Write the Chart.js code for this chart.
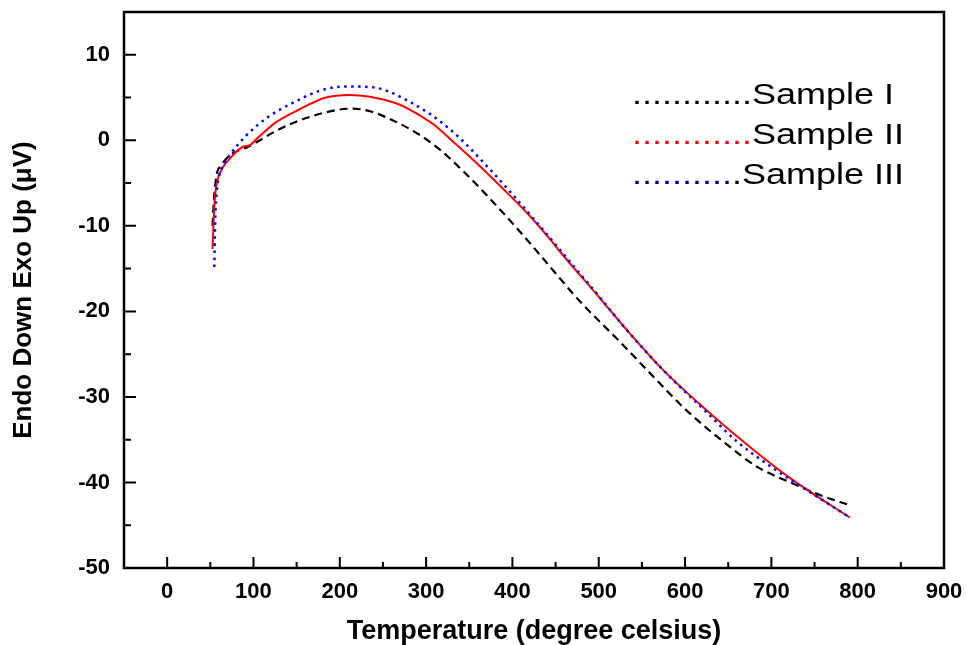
<!DOCTYPE html>
<html>
<head>
<meta charset="utf-8">
<script src="https://cdn.jsdelivr.net/npm/chart.js@4.4.1/dist/chart.umd.min.js"></script>
<style>
  html, body { margin: 0; background: #fff; }
  #wrap { width: 966px; height: 645px; }
</style>
</head>
<body>
<div id="wrap"><canvas id="dsc"></canvas></div>
<script>
// DSC curves, three samples
const sample1Temp   = [52.6, 54, 56, 58, 62, 72, 95, 130, 161, 200, 215, 235, 258, 293, 316, 343, 370, 401, 432, 478, 525, 564, 602, 649, 684, 722, 757, 792];
const sample1Signal = [-10, -7.2, -5, -3.7, -3.0, -1.8, -0.7, 1.3, 2.6, 3.6, 3.7, 3.4, 2.5, 0.6, -1.1, -3.6, -6.4, -9.8, -13.4, -18.8, -23.6, -27.7, -31.6, -35.6, -38.2, -40.0, -41.5, -42.7];

const sample2Temp   = [52.6, 54, 55.5, 57.5, 59.6, 65, 72, 89, 95, 105, 126, 153, 184, 211, 235, 266, 281, 308, 335, 362, 389.5, 417, 444, 455, 500, 531, 575, 622, 672, 711, 742, 791];
const sample2Signal = [-12.7, -9, -6.5, -5, -4.2, -3.1, -2.2, -0.7, -0.6, 0.3, 2.1, 3.6, 5.0, 5.3, 5.1, 4.3, 3.6, 1.9, -0.5, -3.0, -5.7, -8.5, -11.6, -13.0, -18.3, -22.0, -26.9, -31.3, -35.6, -38.7, -40.9, -44.1];

const sample3Temp   = [54.6, 55.5, 57, 60, 66, 72, 91, 118, 146, 177, 207, 238, 281, 327.5, 374, 405, 440, 455, 500, 531, 575, 622, 660, 703, 738, 791];
const sample3Signal = [-14.8, -10, -6.5, -4.2, -2.8, -1.8, 0.5, 2.8, 4.4, 5.8, 6.3, 6.2, 4.5, 1.3, -3.4, -6.9, -11.0, -12.8, -18.2, -22.0, -26.9, -31.5, -35.2, -38.4, -40.7, -44.1];

const xTicks = [0, 100, 200, 300, 400, 500, 600, 700, 800, 900];
const yTicks = [-50, -40, -30, -20, -10, 0, 10];

const seriesLabels = ['Sample I', 'Sample II', 'Sample III'];

const FONT = '"Liberation Sans", Arial, sans-serif';
const pts = (xs, ys) => xs.map((x, i) => ({ x, y: ys[i] }));

// frame + inward major/minor ticks like the original plot
const frameTicks = {
  id: 'frameTicks',
  afterDatasetsDraw(chart) {
    const { ctx, chartArea: a, scales: { x, y } } = chart;
    ctx.save();
    ctx.strokeStyle = '#000';
    ctx.lineWidth = 2;
    ctx.beginPath();
    const xHalf = (xTicks[1] - xTicks[0]) / 2;
    xTicks.forEach(v => {
      const p = x.getPixelForValue(v);
      ctx.moveTo(p, a.bottom); ctx.lineTo(p, a.bottom - 11);
      const m = x.getPixelForValue(v - xHalf);
      if (m > a.left + 1) { ctx.moveTo(m, a.bottom); ctx.lineTo(m, a.bottom - 6); }
    });
    const yHalf = (yTicks[1] - yTicks[0]) / 2;
    yTicks.forEach(v => {
      const p = y.getPixelForValue(v);
      ctx.moveTo(a.left, p); ctx.lineTo(a.left + 12, p);
      const m = y.getPixelForValue(v + yHalf);
      if (m > a.top + 1) { ctx.moveTo(a.left, m); ctx.lineTo(a.left + 7, m); }
    });
    ctx.stroke();
    ctx.lineWidth = 2.5;
    ctx.strokeRect(a.left, a.top, a.right - a.left, a.bottom - a.top);
    ctx.restore();
  }
};

// legend drawn as "........Sample I" text rows, no box
const legendRows = [
  { dots: 12, color: '#000000', tail: 0 },
  { dots: 12, color: '#ff0000', tail: 0 },
  { dots: 10, color: '#000080', tail: 1 }
];
const dottedLegend = {
  id: 'dottedLegend',
  afterDraw(chart) {
    const { ctx } = chart;
    ctx.save();
    ctx.font = '30px ' + FONT;
    ctx.textBaseline = 'alphabetic';
    ctx.textAlign = 'left';
    legendRows.forEach((r, i) => {
      ctx.save();
      ctx.translate(632, 104 + i * 40);
      ctx.scale(1.2, 1);
      const dots = '.'.repeat(r.dots);
      ctx.fillStyle = r.color;
      ctx.fillText(dots, 0, 0);
      const w = ctx.measureText(dots).width;
      ctx.fillStyle = '#000';
      ctx.fillText('.'.repeat(r.tail) + seriesLabels[i], w, 0);
      ctx.restore();
    });
    ctx.restore();
  }
};

new Chart(document.getElementById('dsc'), {
  type: 'scatter',
  data: {
    datasets: [
      { label: seriesLabels[0], data: pts(sample1Temp, sample1Signal), showLine: true, borderColor: '#000000',
        borderWidth: 2.2, borderDash: [8, 5], pointRadius: 0, cubicInterpolationMode: 'monotone', order: 2 },
      { label: seriesLabels[1], data: pts(sample2Temp, sample2Signal), showLine: true, borderColor: '#ff0000',
        borderWidth: 2, pointRadius: 0, cubicInterpolationMode: 'monotone', order: 1 },
      { label: seriesLabels[2], data: pts(sample3Temp, sample3Signal), showLine: true, borderColor: '#0000ff',
        borderWidth: 2.5, borderDash: [2.5, 4.5], pointRadius: 0, cubicInterpolationMode: 'monotone', order: 0 }
    ]
  },
  options: {
    responsive: true,
    maintainAspectRatio: false,
    animation: false,
    layout: { padding: { top: 12, right: 22, left: 0, bottom: 0 } },
    plugins: { legend: { display: false }, tooltip: { enabled: false } },
    scales: {
      x: {
        type: 'linear', min: -50, max: 900,
        afterBuildTicks: s => { s.ticks = xTicks.map(v => ({ value: v })); },
        afterFit: s => { s.height = 77; s.paddingLeft = 0; s.paddingRight = 0; },
        grid: { display: false }, border: { display: false },
        ticks: { color: '#000', padding: 3, maxRotation: 0, autoSkip: false,
                 font: { family: FONT, size: 22, weight: 'bold' } },
        title: { display: true, text: 'Temperature (degree celsius)', color: '#000',
                 font: { family: FONT, size: 27, weight: 'bold' }, padding: { top: 0, bottom: -3 } }
      },
      y: {
        type: 'linear', min: -50, max: 15,
        afterBuildTicks: s => { s.ticks = yTicks.map(v => ({ value: v })); },
        afterFit: s => { s.width = 124; s.paddingTop = 0; s.paddingBottom = 0; },
        grid: { display: false }, border: { display: false },
        ticks: { color: '#000', padding: 6, font: { family: FONT, size: 22, weight: 'bold' } },
        title: { display: true, text: 'Endo Down Exo Up (\u03BCV)', color: '#000',
                 font: { family: FONT, size: 26, weight: 'bold' }, padding: { top: 8, bottom: 0 } }
      }
    }
  },
  plugins: [frameTicks, dottedLegend]
});
</script>
</body>
</html>
